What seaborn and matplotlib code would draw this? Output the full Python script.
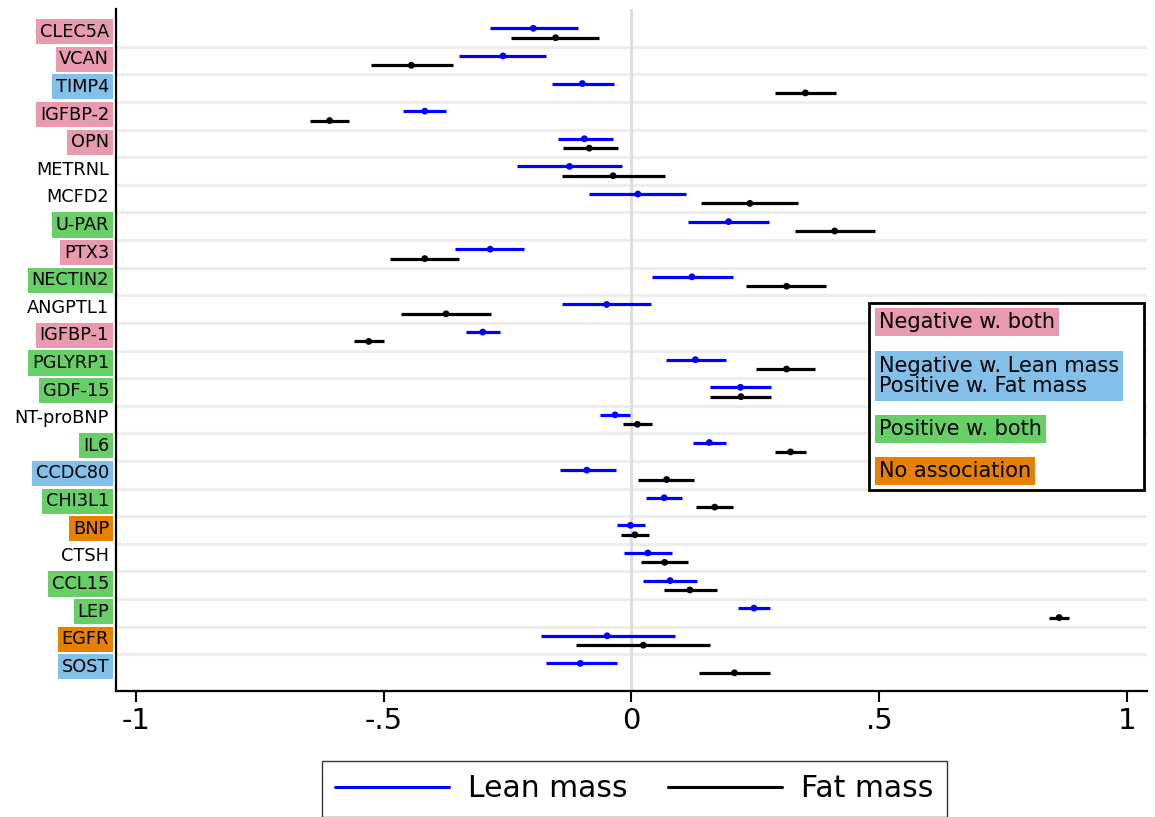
import numpy as np
import pandas as pd
import matplotlib
matplotlib.use("Agg")
import matplotlib.pyplot as plt
from matplotlib.lines import Line2D
from matplotlib.patches import Rectangle
import seaborn as sns

# proteins, top to bottom
proteins = ["CLEC5A", "VCAN", "TIMP4", "IGFBP-2", "OPN", "METRNL", "MCFD2",
            "U-PAR", "PTX3", "NECTIN2", "ANGPTL1", "IGFBP-1", "PGLYRP1",
            "GDF-15", "NT-proBNP", "IL6", "CCDC80", "CHI3L1", "BNP", "CTSH",
            "CCL15", "LEP", "EGFR", "SOST"]
groups = ["neg", "neg", "mixed", "neg", "neg", None, None, "pos", "neg", "pos",
          None, "neg", "pos", "pos", None, "pos", "mixed", "pos", "none", None,
          "pos", "pos", "none", "mixed"]

lean_est = [-0.198, -0.259, -0.099, -0.417, -0.095, -0.125, 0.013, 0.196,
            -0.285, 0.122, -0.050, -0.300, 0.129, 0.220, -0.033, 0.157,
            -0.090, 0.066, -0.002, 0.033, 0.078, 0.247, -0.049, -0.103]
lean_lo = [-0.286, -0.347, -0.161, -0.460, -0.149, -0.230, -0.085, 0.115,
           -0.355, 0.042, -0.141, -0.333, 0.069, 0.159, -0.063, 0.125,
           -0.145, 0.030, -0.030, -0.016, 0.024, 0.216, -0.183, -0.173]
lean_hi = [-0.107, -0.173, -0.036, -0.375, -0.038, -0.020, 0.111, 0.278,
           -0.216, 0.204, 0.040, -0.266, 0.190, 0.282, -0.002, 0.190,
           -0.032, 0.103, 0.027, 0.081, 0.133, 0.279, 0.087, -0.030]

fat_est = [-0.153, -0.444, 0.351, -0.609, -0.085, -0.037, 0.239, 0.410,
           -0.417, 0.313, -0.374, -0.530, 0.313, 0.221, 0.012, 0.321,
           0.071, 0.168, 0.007, 0.067, 0.118, 0.863, 0.024, 0.208]
fat_lo = [-0.242, -0.526, 0.290, -0.649, -0.139, -0.141, 0.141, 0.331,
          -0.488, 0.232, -0.464, -0.560, 0.252, 0.159, -0.018, 0.290,
          0.014, 0.131, -0.022, 0.019, 0.065, 0.843, -0.111, 0.137]
fat_hi = [-0.065, -0.359, 0.413, -0.569, -0.028, 0.067, 0.337, 0.492,
          -0.347, 0.393, -0.284, -0.500, 0.371, 0.282, 0.042, 0.353,
          0.127, 0.204, 0.035, 0.115, 0.173, 0.883, 0.159, 0.279]

group_colors = {"neg": "#e89bae", "mixed": "#82c0ea", "pos": "#66d066", "none": "#e58000"}
group_labels = [("neg", "Negative w. both"),
                ("mixed", "Negative w. Lean mass\nPositive w. Fat mass"),
                ("pos", "Positive w. both"),
                ("none", "No association")]

xticks = [-1, -0.5, 0, 0.5, 1]
xticklabels = ["-1", "-.5", "0", ".5", "1"]

sns.set_style("white")
plt.rcParams["font.family"] = ["DejaVu Sans"]
plt.rcParams["text.color"] = "black"
plt.rcParams["xtick.color"] = "black"
plt.rcParams["ytick.color"] = "black"
plt.rcParams["xtick.labelcolor"] = "black"
plt.rcParams["ytick.labelcolor"] = "black"

rows = np.arange(len(proteins))
df = pd.concat([
    pd.DataFrame({"protein": proteins, "row": rows - 0.17, "est": lean_est,
                  "lo": lean_lo, "hi": lean_hi, "measure": "Lean mass"}),
    pd.DataFrame({"protein": proteins, "row": rows + 0.17, "est": fat_est,
                  "lo": fat_lo, "hi": fat_hi, "measure": "Fat mass"}),
])
palette = {"Lean mass": "blue", "Fat mass": "black"}

fig = plt.figure(figsize=(11.55, 8.17), dpi=100)
ax = fig.add_axes([0.1004, 0.1542, 0.8926, 0.8348])

# row separators and zero line
for r in rows[:-1]:
    ax.axhline(r + 0.5, color="#eeeeee", lw=2.2, zorder=0)
ax.axvline(0, color="#dddddd", lw=2.2, zorder=0)

for m, sub in df.groupby("measure"):
    ax.hlines(sub["row"], sub["lo"], sub["hi"], color=palette[m], lw=2.3, zorder=2)
sns.scatterplot(data=df, x="est", y="row", hue="measure", palette=palette,
                s=24, edgecolor="none", legend=False, zorder=3, ax=ax)

ax.set_xlim(-1.04, 1.04)
ax.set_ylim(23.83, -0.87)
ax.set_xlabel("")
ax.set_ylabel("")
ax.set_xticks(xticks)
ax.set_xticklabels(xticklabels, fontsize=21)
ax.set_yticks(rows - 0.12)
ax.set_yticklabels(proteins, fontsize=12.8)
ax.tick_params(axis="x", length=8, width=1.5, pad=3.5, direction="out", bottom=True)
ax.tick_params(axis="y", length=0, pad=5)
for lab, g in zip(ax.get_yticklabels(), groups):
    if g is not None:
        lab.set_bbox(dict(boxstyle="square,pad=0.2", facecolor=group_colors[g],
                          edgecolor="none"))
for side in ["top", "right"]:
    ax.spines[side].set_visible(False)
for side in ["left", "bottom"]:
    ax.spines[side].set_linewidth(1.6)
    ax.spines[side].set_color("black")

# colour key box
fig.patches.append(Rectangle((869 / 1155, 1 - 490 / 817), 275 / 1155, 187 / 817,
                             transform=fig.transFigure, facecolor="white",
                             edgecolor="black", lw=2, zorder=5))
key_y = [322, 376, 429, 471]
for (g, txt), yy in zip(group_labels, key_y):
    fig.text(879 / 1155, 1 - yy / 817, txt, fontsize=15, ha="left", va="center",
             linespacing=1.05, zorder=6,
             bbox=dict(boxstyle="square,pad=0.2", facecolor=group_colors[g], edgecolor="none"))

handles = [Line2D([], [], color="blue", lw=2.2), Line2D([], [], color="black", lw=2.2)]
leg = fig.legend(handles, ["Lean mass", "Fat mass"], loc="upper center",
                 bbox_to_anchor=(634.5 / 1155, 1 - 761 / 817), ncol=2, fontsize=21.5,
                 handlelength=3.8, handletextpad=0.65, columnspacing=1.35,
                 borderpad=0.45, borderaxespad=0, frameon=True, fancybox=False,
                 edgecolor="#333333", framealpha=1)
leg.get_frame().set_linewidth(1)

fig.savefig("out.png", dpi=100)
